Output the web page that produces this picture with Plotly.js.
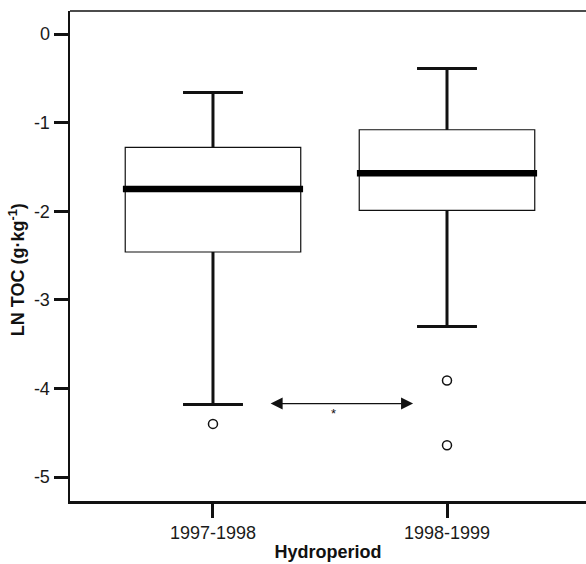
<!DOCTYPE html>
<html>
<head>
<meta charset="utf-8">
<script src="https://cdn.plot.ly/plotly-3.0.1.min.js"></script>
<style>html,body{margin:0;padding:0;background:#fff;overflow:hidden;}#chart{width:586px;height:564px;}</style>
</head>
<body>
<div id="chart"></div>
<script>
// ---- data ----
const categories = ['1997-1998', '1998-1999'];
const catPos = [0, 1];
const q1 = [-2.46, -1.99];
const median = [-1.75, -1.57];
const q3 = [-1.28, -1.08];
const lowerWhisker = [-4.18, -3.30];
const upperWhisker = [-0.66, -0.39];
const outlierCat = [0, 1, 1];
const outlierVal = [-4.40, -3.91, -4.64];
const yTickVals = [0, -1, -2, -3, -4, -5];
const yTickText = ['0', '-1', '-2', '-3', '-4', '-5'];
const arrowFrom = 0.24, arrowTo = 0.855, arrowY = -4.17;
const starX = 0.513, starY = -4.28;

const BOX_HALF = 0.375, MED_HALF = 0.385, CAP_HALF = 0.128;
const font = 'Liberation Sans, Arial, Helvetica, sans-serif';

// whisker overlay (thicker than box outline)
const wx = [], wy = [];
catPos.forEach((c, i) => {
  wx.push(c, c, null, c - CAP_HALF, c + CAP_HALF, null);
  wy.push(q3[i], upperWhisker[i], null, upperWhisker[i], upperWhisker[i], null);
  wx.push(c, c, null, c - CAP_HALF, c + CAP_HALF, null);
  wy.push(q1[i], lowerWhisker[i], null, lowerWhisker[i], lowerWhisker[i], null);
});
const mx = [], my = [];
catPos.forEach((c, i) => {
  mx.push(c - MED_HALF, c + MED_HALF, null);
  my.push(median[i], median[i], null);
});

const traces = [
  {
    type: 'box', x: catPos, q1: q1, median: median, q3: q3,
    lowerfence: lowerWhisker, upperfence: upperWhisker,
    width: 2 * BOX_HALF, whiskerwidth: 0.34, boxpoints: false,
    fillcolor: '#ffffff', line: {color: '#111', width: 1.2},
    hoverinfo: 'skip', showlegend: false
  },
  {
    type: 'scatter', mode: 'lines', x: wx, y: wy,
    line: {color: '#111', width: 3}, hoverinfo: 'skip', showlegend: false
  },
  {
    type: 'scatter', mode: 'lines', x: mx, y: my,
    line: {color: '#000', width: 6.5}, hoverinfo: 'skip', showlegend: false
  },
  {
    type: 'scatter', mode: 'markers', x: outlierCat, y: outlierVal,
    marker: {symbol: 'circle-open', size: 9, color: '#111', line: {width: 1.5, color: '#111'}},
    hoverinfo: 'skip', showlegend: false
  }
];

const layout = {
  width: 586, height: 564,
  margin: {l: 70, r: 0, t: 11, b: 63, pad: 0},
  paper_bgcolor: '#fff', plot_bgcolor: '#fff',
  font: {family: font, size: 18, color: '#1a1a1a'},
  showlegend: false,
  xaxis: {
    range: [-0.611, 1.594], tickvals: catPos, ticktext: categories,
    showgrid: false, zeroline: false, showline: true, linecolor: '#111', linewidth: 2.5,
    ticks: 'outside', ticklen: 14, tickwidth: 3, tickcolor: '#111',
    tickfont: {family: font, size: 18, color: '#1a1a1a'},
    title: {text: '<b>Hydroperiod</b>', font: {family: font, size: 18, color: '#111'}, standoff: 4}
  },
  yaxis: {
    range: [-5.27, 0.26], tickvals: yTickVals, ticktext: yTickText,
    showgrid: false, zeroline: false, showline: true, linecolor: '#111', linewidth: 2.5,
    ticks: 'outside', ticklen: 14, tickwidth: 3, tickcolor: '#111',
    tickfont: {family: font, size: 18, color: '#1a1a1a'}
  },
  shapes: [
    {type: 'line', xref: 'paper', yref: 'paper', x0: 0, x1: 1, y0: 1, y1: 1,
     line: {color: '#111', width: 1.5}}
  ],
  annotations: [
    {
      xref: 'x', yref: 'y', axref: 'x', ayref: 'y',
      x: arrowTo, y: arrowY, ax: arrowFrom, ay: arrowY, text: '',
      showarrow: true, arrowside: 'end+start', arrowhead: 2, startarrowhead: 2,
      arrowsize: 2.0, startarrowsize: 2.0, arrowwidth: 1.2, arrowcolor: '#111'
    },
    {
      xref: 'x', yref: 'y', x: starX, y: starY, text: '*', showarrow: false,
      font: {family: font, size: 13, color: '#111'}
    },
    {
      xref: 'paper', yref: 'paper', x: -0.1027, y: 0.471, xanchor: 'center', yanchor: 'middle',
      textangle: -90, showarrow: false,
      text: '<b>LN TOC (g·kg<sup>-1</sup>)</b>',
      font: {family: font, size: 18, color: '#111'}
    }
  ]
};

Plotly.newPlot('chart', traces, layout, {staticPlot: true, displayModeBar: false});
</script>
</body>
</html>
